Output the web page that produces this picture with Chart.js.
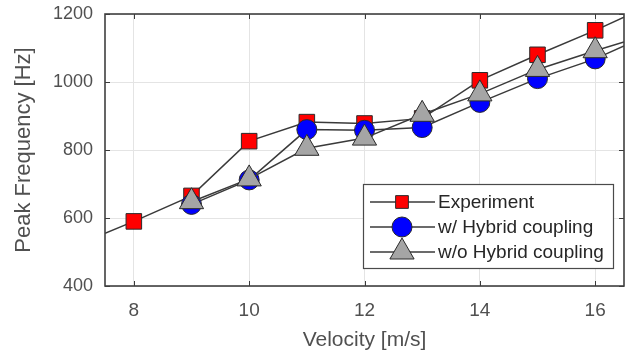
<!DOCTYPE html>
<html><head><meta charset="utf-8">
<script src="https://cdn.jsdelivr.net/npm/chart.js@4/dist/chart.umd.min.js"></script>
<style>html,body{margin:0;padding:0;background:#fff;}#wrap{width:631px;height:355px;position:relative;}</style>
</head><body><div id="wrap"><canvas id="c" width="631" height="355"></canvas></div>
<script>
const velocities = [8, 9, 10, 11, 12, 13, 14, 15, 16];
const experiment = [590, 665, 826, 882, 878, 893, 1005, 1080, 1152];
const withHybrid = [null, 640, 712, 860, 858, 866, 940, 1010, 1068];
const withoutHybrid = [null, 648, 715, 805, 835, 905, 965, 1037, 1092];
// where the connecting lines leave the plot box
const edgeVelocities = [7.5, 16.5];
const experimentEdge = [555, 1191];
const withHybridEdge = [null, 1106];
const withoutHybridEdge = [null, 1118];
const xTicks = [8, 10, 12, 14, 16];
const yTicks = [400, 600, 800, 1000, 1200];
const seriesNames = ['Experiment', 'w/ Hybrid coupling', 'w/o Hybrid coupling'];

function pts(vals, edge) {
  const out = [];
  if (edge[0] != null) out.push({x: edgeVelocities[0], y: edge[0], edge: true});
  velocities.forEach((v, i) => { if (vals[i] != null) out.push({x: v, y: vals[i]}); });
  if (edge[1] != null) out.push({x: edgeVelocities[1], y: edge[1], edge: true});
  return out;
}
const LINE = '#3a3a3a';
const FONT = '"Liberation Sans", Arial, sans-serif';
const styles = [
  {fill: '#ff0000', style: 'rect', r: 11},
  {fill: '#0000ff', style: 'circle', r: 10},
  {fill: '#a5a5a5', style: 'triangle', r: 14}
];
function ds(i, data, order) {
  const s = styles[i];
  return {
    label: seriesNames[i], data, order,
    borderColor: LINE, borderWidth: 1.5,
    pointStyle: s.style, backgroundColor: s.fill, pointBackgroundColor: s.fill,
    pointBorderColor: '#2a2a2a', pointBorderWidth: 1,
    pointRadius: c => (c.raw && c.raw.edge) ? 0 : s.r,
    pointHoverRadius: c => (c.raw && c.raw.edge) ? 0 : s.r,
    tension: 0, fill: false
  };
}

function drawMarker(ctx, style, x, y, r, fill) {
  ctx.save();
  ctx.fillStyle = fill; ctx.strokeStyle = '#2a2a2a'; ctx.lineWidth = 1;
  ctx.beginPath();
  if (style === 'rect') { const s = Math.SQRT1_2 * r; ctx.rect(x - s, y - s, 2 * s, 2 * s); }
  else if (style === 'circle') { ctx.arc(x, y, r, 0, Math.PI * 2); }
  else {
    for (let k = 0; k < 3; k++) {
      const a = k * 2 * Math.PI / 3;
      const px = x + Math.sin(a) * r, py = y - Math.cos(a) * r;
      if (k === 0) ctx.moveTo(px, py); else ctx.lineTo(px, py);
    }
    ctx.closePath();
  }
  ctx.fill(); ctx.stroke();
  ctx.restore();
}

const framePlugin = {
  id: 'frame',
  afterDraw(chart) {
    const {ctx, chartArea: a, scales} = chart;
    ctx.save();
    ctx.strokeStyle = '#3a3a3a'; ctx.lineWidth = 1;
    ctx.beginPath();
    xTicks.forEach(v => {
      const px = Math.round(scales.x.getPixelForValue(v)) + 0.5;
      ctx.moveTo(px, a.bottom); ctx.lineTo(px, a.bottom - 5);
      ctx.moveTo(px, a.top); ctx.lineTo(px, a.top + 5);
    });
    yTicks.forEach(v => {
      const py = Math.round(scales.y.getPixelForValue(v)) + 0.5;
      ctx.moveTo(a.left, py); ctx.lineTo(a.left + 5, py);
      ctx.moveTo(a.right, py); ctx.lineTo(a.right - 5, py);
    });
    ctx.stroke();
    ctx.strokeStyle = '#404040'; ctx.lineWidth = 1.6;
    ctx.strokeRect(a.left, a.top, a.right - a.left, a.bottom - a.top);
    // legend
    const bx = 363, by = 184, bw = 250, bh = 84;
    ctx.fillStyle = '#fff'; ctx.fillRect(bx, by, bw, bh);
    ctx.strokeStyle = '#4a4a4a'; ctx.lineWidth = 1.2;
    ctx.strokeRect(bx + 0.5, by + 0.5, bw, bh);
    ctx.font = '19px ' + FONT;
    ctx.textBaseline = 'middle'; ctx.textAlign = 'left';
    seriesNames.forEach((name, i) => {
      const ry = by + 18 + i * 25;
      ctx.strokeStyle = LINE; ctx.lineWidth = 1.5;
      ctx.beginPath(); ctx.moveTo(bx + 7, ry); ctx.lineTo(bx + 72, ry); ctx.stroke();
      const s = styles[i];
      drawMarker(ctx, s.style, bx + 39, ry, i === 0 ? 9 : s.r, s.fill);
      ctx.fillStyle = '#262626';
      ctx.fillText(name, bx + 75, ry + 1);
    });
    ctx.restore();
  }
};

function noPad(s) { s.paddingTop = 0; s.paddingBottom = 0; s.paddingLeft = 0; s.paddingRight = 0; }

new Chart(document.getElementById('c'), {
  type: 'line',
  data: {
    datasets: [
      ds(0, pts(experiment, experimentEdge), 3),
      ds(1, pts(withHybrid, withHybridEdge), 2),
      ds(2, pts(withoutHybrid, withoutHybridEdge), 1)
    ]
  },
  options: {
    responsive: false, animation: false, devicePixelRatio: 1,
    layout: {autoPadding: false, padding: {top: 14, right: 7, left: 0, bottom: 0}},
    plugins: {legend: {display: false}, tooltip: {enabled: false}},
    scales: {
      x: {
        type: 'linear', min: 7.5, max: 16.5,
        afterFit: s => { s.height = 69; noPad(s); },
        afterBuildTicks: s => { s.ticks = xTicks.map(v => ({value: v})); },
        grid: {color: '#e4e4e4', lineWidth: 1, drawTicks: false},
        border: {display: false},
        ticks: {padding: 13, color: '#505050', callback: v => String(v), font: {family: FONT, size: 19}},
        title: {display: true, text: 'Velocity [m/s]', color: '#505050', padding: {top: 2, bottom: 2},
                font: {family: FONT, size: 21}}
      },
      y: {
        type: 'linear', min: 400, max: 1200,
        afterFit: s => { s.width = 105; noPad(s); },
        afterBuildTicks: s => { s.ticks = yTicks.map(v => ({value: v})); },
        grid: {color: '#e4e4e4', lineWidth: 1, drawTicks: false},
        border: {display: false},
        ticks: {padding: 12, color: '#505050', callback: v => String(v), font: {family: FONT, size: 18}},
        title: {display: true, text: 'Peak Frequency [Hz]', color: '#505050', padding: {top: 11, bottom: 11},
                font: {family: FONT, size: 22}}
      }
    }
  },
  plugins: [framePlugin]
});
</script></body></html>
